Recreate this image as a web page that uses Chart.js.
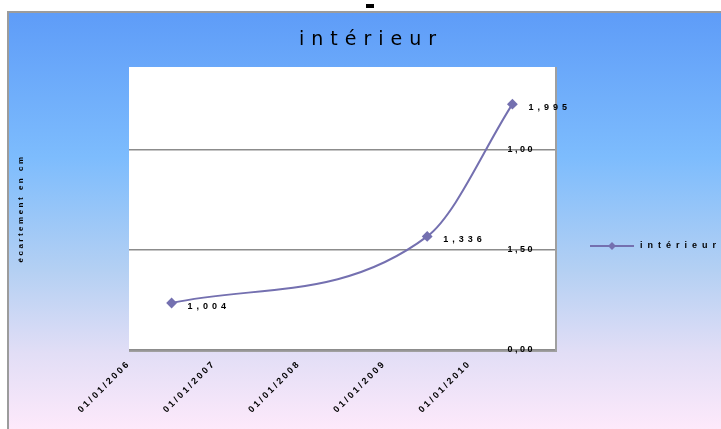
<!DOCTYPE html>
<html>
<head>
<meta charset="utf-8">
<script src="https://cdn.jsdelivr.net/npm/chart.js@4"></script>
<style>
  html, body { margin: 0; padding: 0; background: #fff; overflow: hidden; }
  #wrap { width: 721px; height: 429px; }
</style>
</head>
<body>
<div id="wrap"><canvas id="chart"></canvas></div>
<script>
// values
const chartTitle = 'intérieur';
const yAxisTitle = 'écartement en cm';
const xTickValues = [2006, 2007, 2008, 2009, 2010];
const xTickLabels = ['01/01/2006', '01/01/2007', '01/01/2008', '01/01/2009', '01/01/2010'];
const seriesX = [2006.5, 2009.5, 2010.5];
const seriesY = [1.004, 1.336, 1.995];
const pointLabels = ['1,004', '1,336', '1,995'];
const yTickValues = [0.77, 1.27, 1.77];
const yTickLabels = ['0,00', '1,50', '1,00'];

const lineColor = 'rgb(116,112,176)';
const smallFont = { family: 'Liberation Sans', size: 9, weight: 'bold' };

const decor = {
    id: 'decor',
    beforeUpdate(chart) {
        chart.ctx.letterSpacing = '2.5px';
    },
    beforeDraw(chart) {
        const ctx = chart.ctx;
        const a = chart.chartArea;
        const w = chart.width, h = chart.height;
        ctx.save();
        ctx.fillStyle = '#fff';
        ctx.fillRect(0, 0, w, h);
        const g = ctx.createLinearGradient(0, 12, 0, h);
        g.addColorStop(0, '#5e9cf8');
        g.addColorStop(0.35, '#7dbcfd');
        g.addColorStop(0.62, '#b4d0f3');
        g.addColorStop(0.82, '#e2def6');
        g.addColorStop(1, '#fde9fb');
        ctx.fillStyle = g;
        ctx.fillRect(8, 12, w - 8, h - 12);
        ctx.strokeStyle = '#9c9c9c';
        ctx.lineWidth = 2;
        ctx.beginPath();
        ctx.moveTo(8, h);
        ctx.lineTo(8, 12);
        ctx.lineTo(w, 12);
        ctx.stroke();
        ctx.fillStyle = '#000';
        ctx.fillRect(366, 4, 8, 4);

        // plot area
        ctx.fillStyle = '#fff';
        ctx.fillRect(a.left, a.top, a.right - a.left, a.bottom - a.top);
        ctx.strokeStyle = '#a0a0a0';
        ctx.lineWidth = 2;
        ctx.beginPath();
        ctx.moveTo(a.left, a.bottom + 1);
        ctx.lineTo(a.right + 1, a.bottom + 1);
        ctx.lineTo(a.right + 1, a.top);
        ctx.stroke();

        // title
        ctx.letterSpacing = '7px';
        ctx.font = '19px "DejaVu Sans"';
        ctx.fillStyle = '#000';
        ctx.textAlign = 'center';
        ctx.textBaseline = 'middle';
        ctx.fillText(chartTitle, 371, 40);
        ctx.restore();
    },
    afterDatasetsDraw(chart) {
        const ctx = chart.ctx;
        const pts = chart.getDatasetMeta(0).data;
        ctx.save();
        ctx.letterSpacing = '4px';
        ctx.font = 'bold 9px "Liberation Sans"';
        ctx.fillStyle = '#000';
        ctx.textAlign = 'left';
        ctx.textBaseline = 'middle';
        pts.forEach((p, i) => {
            ctx.fillText(pointLabels[i], p.x + 16, p.y + 3);
        });
        ctx.restore();
    },
    afterDraw(chart) {
        // legend
        const ctx = chart.ctx;
        const ly = 246;
        ctx.save();
        ctx.strokeStyle = lineColor;
        ctx.lineWidth = 2;
        ctx.beginPath();
        ctx.moveTo(590, ly);
        ctx.lineTo(634, ly);
        ctx.stroke();
        ctx.fillStyle = lineColor;
        ctx.beginPath();
        ctx.moveTo(612, ly - 4);
        ctx.lineTo(616, ly);
        ctx.lineTo(612, ly + 4);
        ctx.lineTo(608, ly);
        ctx.closePath();
        ctx.fill();
        ctx.letterSpacing = '5px';
        ctx.font = 'bold 9px "Liberation Sans"';
        ctx.fillStyle = '#000';
        ctx.textAlign = 'left';
        ctx.textBaseline = 'middle';
        ctx.fillText(chartTitle, 640, ly);
        ctx.restore();
    }
};

new Chart(document.getElementById('chart'), {
    type: 'line',
    data: {
        datasets: [{
            label: chartTitle,
            data: seriesX.map((x, i) => ({ x: x, y: seriesY[i] })),
            borderColor: lineColor,
            backgroundColor: lineColor,
            borderWidth: 2,
            pointStyle: 'rectRot',
            pointRadius: 4,
            cubicInterpolationMode: 'monotone'
        }]
    },
    options: {
        responsive: true,
        maintainAspectRatio: false,
        animation: false,
        layout: { padding: { left: 8, top: 67, right: 0, bottom: 0 } },
        plugins: {
            legend: { display: false },
            title: { display: false },
            tooltip: { enabled: false }
        },
        scales: {
            x: {
                type: 'linear',
                min: 2006,
                max: 2011,
                afterBuildTicks: s => { s.ticks = xTickValues.map(v => ({ value: v })); },
                afterFit: s => { s.height = 79; },
                grid: { display: false, drawTicks: false },
                border: { display: false },
                ticks: {
                    autoSkip: false,
                    minRotation: 45,
                    maxRotation: 45,
                    padding: 8,
                    color: '#000',
                    font: smallFont,
                    callback: (v, i) => xTickLabels[i]
                }
            },
            y: {
                type: 'linear',
                position: 'right',
                min: 0.77,
                max: 2.18,
                afterBuildTicks: s => { s.ticks = yTickValues.map(v => ({ value: v })); },
                afterFit: s => { s.width = 166; },
                grid: { color: '#8c8c8c', lineWidth: 1.5, drawTicks: false },
                border: { display: false },
                ticks: {
                    mirror: true,
                    padding: -20,
                    color: '#000',
                    font: smallFont,
                    callback: (v, i) => yTickLabels[i]
                }
            },
            yt: {
                type: 'linear',
                position: 'left',
                min: 0,
                max: 1,
                afterFit: s => { s.width = 121; },
                grid: { display: false, drawTicks: false },
                border: { display: false },
                ticks: { display: false },
                title: {
                    display: true,
                    text: yAxisTitle,
                    color: '#000',
                    font: { family: 'Liberation Sans', size: 8, weight: 'bold' },
                    padding: { top: 8, bottom: 0 }
                }
            }
        }
    },
    plugins: [decor]
});
</script>
</body>
</html>
